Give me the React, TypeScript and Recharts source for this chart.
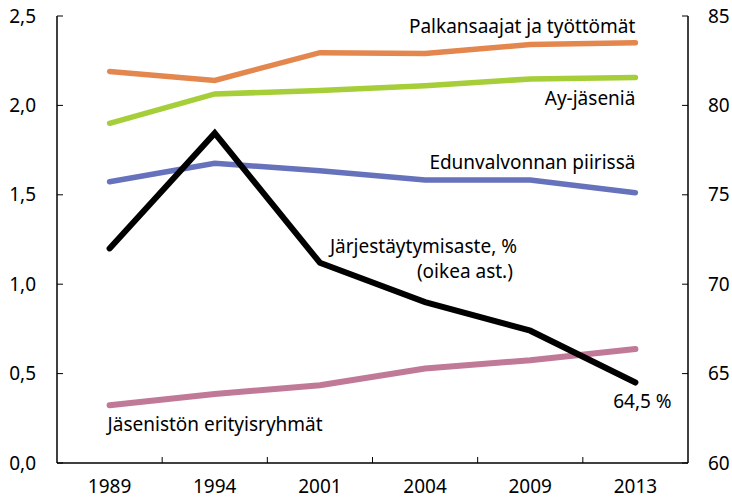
import { LineChart, Line, XAxis, YAxis } from "recharts";

const years = ["1989", "1994", "2001", "2004", "2009", "2013"];
const palkansaajat = [2.19, 2.14, 2.295, 2.29, 2.34, 2.35];
const ayJasenia = [1.9, 2.064, 2.083, 2.11, 2.148, 2.156];
const edunvalvonta = [1.573, 1.676, 1.635, 1.583, 1.583, 1.512];
const erityisryhmat = [0.323, 0.386, 0.435, 0.528, 0.575, 0.637];
const jarjestaytymisaste = [72.0, 78.45, 71.2, 69.0, 67.4, 64.5];
const leftTicks = [0, 0.5, 1, 1.5, 2, 2.5];
const rightTicks = [60, 65, 70, 75, 80, 85];

const data = years.map((year, i) => ({
  year,
  palkansaajat: palkansaajat[i],
  ayJasenia: ayJasenia[i],
  edunvalvonta: edunvalvonta[i],
  erityisryhmat: erityisryhmat[i],
  jarjestaytymisaste: jarjestaytymisaste[i],
}));

const W = 732;
const H = 500;
const LEFT_W = 57;
const RIGHT_W = 44;
const BOTTOM_H = 37;
const step = (W - LEFT_W - RIGHT_W) / years.length;
const font = "'Noto Sans', sans-serif";
const fontSize = 19;

const XTick = ({ x, y, payload, index }: any) => (
  <g>
    {index > 0 && (
      <line x1={x - step / 2} x2={x - step / 2} y1={y} y2={y - 6} stroke="#000" strokeWidth={1} />
    )}
    <text x={x} y={y + 30} textAnchor="middle" fontFamily={font} fontSize={fontSize} fill="#000">
      {payload.value}
    </text>
  </g>
);

const LeftTick = ({ x, y, payload }: any) => (
  <g>
    <line x1={x} x2={x + 6} y1={y} y2={y} stroke="#000" strokeWidth={1} />
    <text x={x - 21} y={y} dy="0.35em" textAnchor="end" fontFamily={font} fontSize={fontSize} fill="#000">
      {payload.value.toFixed(1).replace(".", ",")}
    </text>
  </g>
);

const RightTick = ({ x, y, payload }: any) => (
  <g>
    <line x1={x} x2={x - 6} y1={y} y2={y} stroke="#000" strokeWidth={1} />
    <text x={x + 20} y={y} dy="0.35em" textAnchor="start" fontFamily={font} fontSize={fontSize} fill="#000">
      {payload.value}
    </text>
  </g>
);

// label drawn next to one chosen point of a line
const pointLabel = (idx: number, lines: { text: string; dx: number; dy: number; anchor: string }[]) =>
  (props: any) => {
    if (props.index !== idx) return null;
    return (
      <g key={`lbl-${idx}`}>
        {lines.map((l, k) => (
          <text
            key={k}
            x={props.x + l.dx}
            y={props.y + l.dy}
            dy="0.35em"
            textAnchor={l.anchor}
            fontFamily={font}
            fontSize={fontSize}
            fill="#000"
          >
            {l.text}
          </text>
        ))}
      </g>
    );
  };

export default function App() {
  return (
    <div style={{ width: W, height: H }}>
      <style>{"body{margin:0}"}</style>
      <LineChart width={W} height={H} data={data} margin={{ top: 16, right: 0, left: 0, bottom: 0 }}>
        <XAxis
          dataKey="year"
          scale="band"
          axisLine={{ stroke: "#000", strokeWidth: 1.5 }}
          tickLine={false}
          tickSize={0}
          tickMargin={0}
          tick={<XTick />}
          interval={0}
          height={BOTTOM_H}
        />
        <YAxis
          yAxisId="left"
          domain={[0, 2.5]}
          ticks={leftTicks}
          axisLine={{ stroke: "#000", strokeWidth: 1.5 }}
          tickLine={false}
          tickSize={0}
          tickMargin={0}
          tick={<LeftTick />}
          interval={0}
          width={LEFT_W}
        />
        <YAxis
          yAxisId="right"
          orientation="right"
          domain={[60, 85]}
          ticks={rightTicks}
          axisLine={{ stroke: "#000", strokeWidth: 1.5 }}
          tickLine={false}
          tickSize={0}
          tickMargin={0}
          tick={<RightTick />}
          interval={0}
          width={RIGHT_W}
        />
        <Line
          yAxisId="left"
          dataKey="palkansaajat"
          stroke="#E3874F"
          strokeWidth={5.5}
          strokeLinecap="round"
          dot={false}
          isAnimationActive={false}
          label={pointLabel(5, [{ text: "Palkansaajat ja työttömät", dx: 0, dy: -16, anchor: "end" }])}
        />
        <Line
          yAxisId="left"
          dataKey="ayJasenia"
          stroke="#A6CE39"
          strokeWidth={5.5}
          strokeLinecap="round"
          dot={false}
          isAnimationActive={false}
          label={pointLabel(5, [{ text: "Ay-jäseniä", dx: 0, dy: 21, anchor: "end" }])}
        />
        <Line
          yAxisId="left"
          dataKey="edunvalvonta"
          stroke="#6672BB"
          strokeWidth={5.5}
          strokeLinecap="round"
          dot={false}
          isAnimationActive={false}
          label={pointLabel(5, [{ text: "Edunvalvonnan piirissä", dx: 0, dy: -30, anchor: "end" }])}
        />
        <Line
          yAxisId="left"
          dataKey="erityisryhmat"
          stroke="#C07A97"
          strokeWidth={6}
          strokeLinecap="round"
          dot={false}
          isAnimationActive={false}
          label={pointLabel(0, [{ text: "Jäsenistön erityisryhmät", dx: -2, dy: 19, anchor: "start" }])}
        />
        <Line
          yAxisId="right"
          dataKey="jarjestaytymisaste"
          stroke="#000"
          strokeWidth={6}
          strokeLinecap="round"
          dot={false}
          isAnimationActive={false}
          label={(props: any) => {
            if (props.index === 2)
              return pointLabel(2, [
                { text: "Järjestäytymisaste, %", dx: 10, dy: -16, anchor: "start" },
                { text: "(oikea ast.)", dx: 193, dy: 9, anchor: "end" },
              ])(props);
            if (props.index === 5)
              return pointLabel(5, [{ text: "64,5 %", dx: 7, dy: 19, anchor: "middle" }])(props);
            return null;
          }}
        />
      </LineChart>
    </div>
  );
}
